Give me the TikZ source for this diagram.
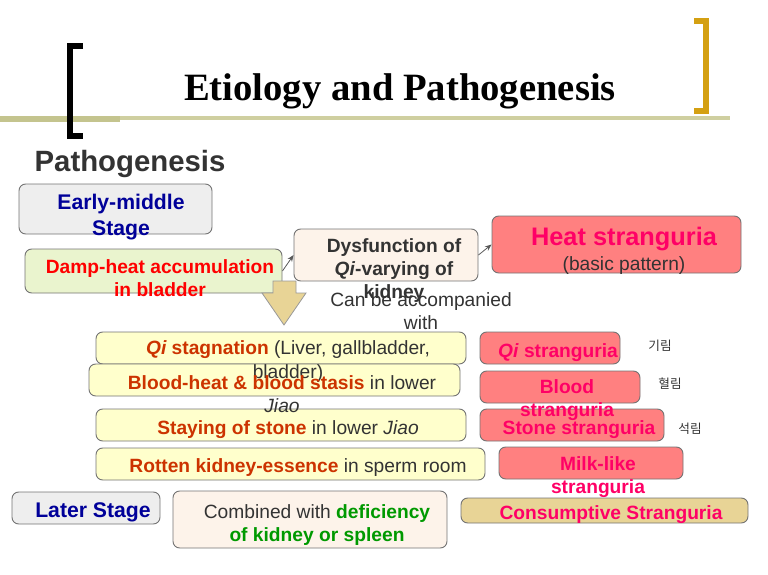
\documentclass[tikz,border=0pt]{standalone}
\usepackage{fontspec}
\setmainfont{Liberation Sans}
\newfontfamily\tms{Liberation Serif}
\newfontfamily\kr{Noto Sans CJK KR}
\usetikzlibrary{arrows.meta}
\definecolor{navy}{HTML}{000099}
\definecolor{dgray}{HTML}{333333}
\definecolor{rust}{HTML}{CC3300}
\definecolor{hot}{HTML}{FF0066}
\definecolor{grn}{HTML}{009900}
\definecolor{bgray}{HTML}{EEEEEE}
\definecolor{bgreen}{HTML}{EAF4CE}
\definecolor{bcream}{HTML}{FDF3EA}
\definecolor{bpink}{HTML}{FF8080}
\definecolor{byel}{HTML}{FFFFCC}
\definecolor{bkhaki}{HTML}{E8D496}
\definecolor{olive}{HTML}{CFCFA0}
\definecolor{olived}{HTML}{C4C48E}
\definecolor{gold}{HTML}{D4A012}
\begin{document}
\begin{tikzpicture}[x=0.75pt,y=-0.75pt,
  bx/.style={draw=black!55,line width=0.7pt,rounded corners=5pt,inner sep=0pt},
  txt/.style={inner sep=0pt,align=center,font=\fontsize{14.4}{17.3}\selectfont,text=dgray,yshift=-1.9pt},
  stg/.style={txt,font=\fontsize{15.9}{19.5}\selectfont\bfseries,text=navy},
  conn/.style={draw=black!65,line width=0.6pt,-{Stealth[length=5pt,width=4pt]}}
]
\useasboundingbox (0,0) rectangle (768,575);
% header decorations
\draw[olive,line width=3pt] (0,118) -- (730,118);
\draw[olived,line width=4.5pt] (0,119) -- (120,119);
\draw[black,line width=4pt] (83,46) -- (70,46) -- (70,136) -- (83,136);
\draw[gold,line width=4pt] (694,21) -- (706,21) -- (706,111) -- (694,111);
\node[inner sep=0pt,font=\tms\fontsize{29}{34}\selectfont\bfseries] (title) at (400,91) {Etiology and Pathogenesis};
\node[inner sep=0pt,font=\fontsize{22}{26}\selectfont\bfseries,text=dgray] (ptitle) at (130,164) {Pathogenesis};
% boxes
\node[bx,fill=bgray,minimum width=193*0.75pt,minimum height=50*0.75pt] (early) at (115.5,209) {};
\node[bx,fill=bgreen,minimum width=257*0.75pt,minimum height=44*0.75pt] (damp) at (153.5,271) {};
\node[bx,fill=bcream,minimum width=184*0.75pt,minimum height=52*0.75pt] (dys) at (386,255) {};
\node[bx,fill=bpink,minimum width=249*0.75pt,minimum height=57*0.75pt] (heat) at (616.5,244.5) {};
\node[bx,fill=byel,minimum width=370*0.75pt,minimum height=32*0.75pt] (qi) at (281,348) {};
\node[bx,fill=byel,minimum width=371*0.75pt,minimum height=32*0.75pt] (blood) at (274.5,380) {};
\node[bx,fill=byel,minimum width=370*0.75pt,minimum height=32*0.75pt] (stone) at (281,425) {};
\node[bx,fill=byel,minimum width=389*0.75pt,minimum height=32*0.75pt] (rotten) at (290.5,464) {};
\node[bx,fill=bpink,minimum width=140*0.75pt,minimum height=32*0.75pt] (qis) at (550,348) {};
\node[bx,fill=bpink,minimum width=160*0.75pt,minimum height=32*0.75pt] (bloods) at (560,387) {};
\node[bx,fill=bpink,minimum width=184*0.75pt,minimum height=32*0.75pt] (stones) at (572,425) {};
\node[bx,fill=bpink,minimum width=184*0.75pt,minimum height=32*0.75pt] (milk) at (591,463) {};
\node[bx,fill=bgray,minimum width=148*0.75pt,minimum height=32*0.75pt] (later) at (86,508) {};
\node[bx,fill=bcream,minimum width=274*0.75pt,minimum height=57*0.75pt] (comb) at (310,519.5) {};
\node[bx,fill=bkhaki,minimum width=287*0.75pt,minimum height=25*0.75pt] (cons) at (604.5,510.5) {};
% block arrow
\draw[fill=bkhaki,draw=black!40,line width=0.6pt] (273,281) -- (296,281) -- (296,293) -- (306,293) -- (284,325) -- (262,293) -- (273,293) -- cycle;
% connectors
\draw[conn] (damp.east) -- (dys.west);
\draw[conn] (dys.east) -- (heat.west);
% texts
\node[stg] (earlyt) at (121,215) {Early-middle\\Stage};
\node[txt,text=red,font=\fontsize{14.4}{17.3}\selectfont\bfseries] (dampt) at (160,275.5) {Damp-heat accumulation\\in bladder};
\node[txt,font=\fontsize{14.4}{17.3}\selectfont\bfseries] (dyst) at (394,268) {Dysfunction of\\\textit{Qi}-varying of\\kidney};
\node[txt,text=hot,font=\fontsize{19}{22}\selectfont\bfseries] (heatt) at (624,236) {Heat stranguria};
\node[txt] (heats) at (624,263) {(basic pattern)};
\node[txt] (cant) at (421,308.5) {Can be accompanied\\with};
\node[txt] (qit) at (288,359) {\textcolor{rust}{\bfseries\itshape Qi\upshape\ stagnation} (Liver, gallbladder,\\bladder)};
\node[txt] (bloodt) at (282,391.5) {\textcolor{rust}{\bfseries Blood-heat \& blood stasis} in lower\\\textit{Jiao}};
\node[txt] (stonet) at (288,427) {\textcolor{rust}{\bfseries Staying of stone} in lower \textit{Jiao}};
\node[txt] (rottent) at (298,465) {\textcolor{rust}{\bfseries Rotten kidney-essence} in sperm room};
\node[txt,text=hot,font=\fontsize{14.4}{17.3}\selectfont\bfseries] (qist) at (558,350) {\textit{Qi} stranguria};
\node[txt,text=hot,font=\fontsize{14.4}{17.3}\selectfont\bfseries] (bloodst) at (567,397.5) {Blood\\stranguria};
\node[txt,text=hot,font=\fontsize{14.4}{17.3}\selectfont\bfseries] (stonest) at (579,427) {Stone stranguria};
\node[txt,text=hot,font=\fontsize{14.4}{17.3}\selectfont\bfseries] (milkt) at (598,474.5) {Milk-like\\stranguria};
\node[txt,font=\kr\fontsize{9.5}{11}\selectfont] (kr1) at (660,343) {기림};
\node[txt,font=\kr\fontsize{9.5}{11}\selectfont] (kr2) at (670,381) {혈림};
\node[txt,font=\kr\fontsize{9.5}{11}\selectfont] (kr3) at (690,426) {석림};
\node[stg] (latert) at (93,510) {Later Stage};
\node[txt] (combt) at (317,522.5) {Combined with \textcolor{grn}{\bfseries deficiency}\\\textcolor{grn}{\bfseries of kidney or spleen}};
\node[txt,text=hot,font=\fontsize{14.4}{17.3}\selectfont\bfseries] (const) at (611,512) {Consumptive Stranguria};
\end{tikzpicture}
\end{document}
